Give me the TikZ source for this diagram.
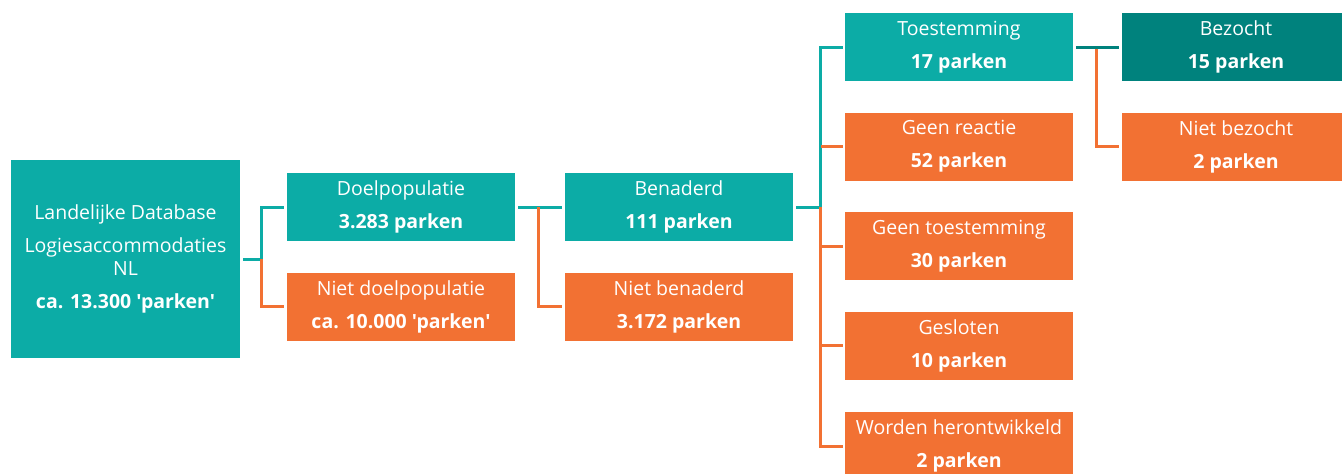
\documentclass[tikz,border=0pt]{standalone}
\usepackage{fontspec}
\setmainfont{Open Sans}[Ligatures=TeXOff]
\definecolor{tealc}{RGB}{12,172,166}
\definecolor{orangec}{RGB}{242,113,51}
\definecolor{darkt}{RGB}{0,130,125}
\tikzset{
  box/.style={rectangle, inner sep=0pt, minimum width=228pt, minimum height=68pt,
    text=white, align=center, font=\fontsize{19.5}{23}\selectfont},
  tbox/.style={box, fill=tealc},
  obox/.style={box, fill=orangec},
  dbox/.style={box, fill=darkt},
  tl/.style={draw=tealc, line width=3pt},
  ol/.style={draw=orangec, line width=3pt},
  dl/.style={draw=darkt, line width=3pt},
}
\begin{document}
\begin{tikzpicture}[x=1pt,y=-1pt]
\useasboundingbox (0,0) rectangle (1342,474);
\node[tbox, minimum width=229pt, minimum height=198pt, text depth=4pt] (root) at (125.5,259)
  {Landelijke Database\\[10pt]Logiesaccommodaties\\NL\\[10pt]\textbf{ca. 13.300 'parken'}};
\node[tbox] (doel) at (401,207) {Doelpopulatie\\[10pt]\textbf{3.283 parken}};
\node[obox] (nietdoel) at (401,306.5) {Niet doelpopulatie\\[10pt]\textbf{ca. 10.000 'parken'}};
\node[tbox] (ben) at (679,207) {Benaderd\\[10pt]\textbf{111 parken}};
\node[obox] (nietben) at (679,306.5) {Niet benaderd\\[10pt]\textbf{3.172 parken}};
\node[tbox] (toe) at (959,47) {Toestemming\\[10pt]\textbf{17 parken}};
\node[obox] (geen) at (959,146.5) {Geen reactie\\[10pt]\textbf{52 parken}};
\node[obox] (geentoe) at (959,246) {Geen toestemming\\[10pt]\textbf{30 parken}};
\node[obox] (ges) at (959,345.5) {Gesloten\\[10pt]\textbf{10 parken}};
\node[obox] (word) at (959,446) {Worden herontwikkeld\\[10pt]\textbf{2 parken}};
\node[dbox] (bez) at (1236,47) {Bezocht\\[10pt]\textbf{15 parken}};
\node[obox] (nietbez) at (1236,146.5) {Niet bezocht\\[10pt]\textbf{2 parken}};
% connectors root
\coordinate (j1) at ([xshift=-25pt]doel.west |- root.east);
\draw[tl] ([xshift=3pt]root.east) -- (j1) |- ([xshift=-3pt]doel.west);
\draw[ol] (j1) |- ([xshift=-3pt]nietdoel.west);
% connectors doel
\coordinate (j2) at ([xshift=-26pt]ben.west);
\draw[tl] ([xshift=3pt]doel.east) -- ([xshift=-3pt]ben.west);
\draw[ol] (j2) |- ([xshift=-3pt]nietben.west);
% connectors ben
\coordinate (j3) at ([xshift=-24pt]toe.west |- ben.east);
\draw[tl] ([xshift=3pt]ben.east) -- (j3) |- ([xshift=-2pt]toe.west);
\draw[ol] (j3) |- ([xshift=-2pt]word.west);
\draw[ol] (j3 |- geen.west) -- ([xshift=-2pt]geen.west);
\draw[ol] (j3 |- geentoe.west) -- ([xshift=-2pt]geentoe.west);
\draw[ol] (j3 |- ges.west) -- ([xshift=-2pt]ges.west);
% connectors toe
\coordinate (j4) at ([xshift=-25pt]bez.west);
\draw[ol] (j4) |- ([xshift=-3pt]nietbez.west);
\draw[dl] ([xshift=3pt]toe.east) -- ([xshift=-3pt]bez.west);
\end{tikzpicture}
\end{document}
